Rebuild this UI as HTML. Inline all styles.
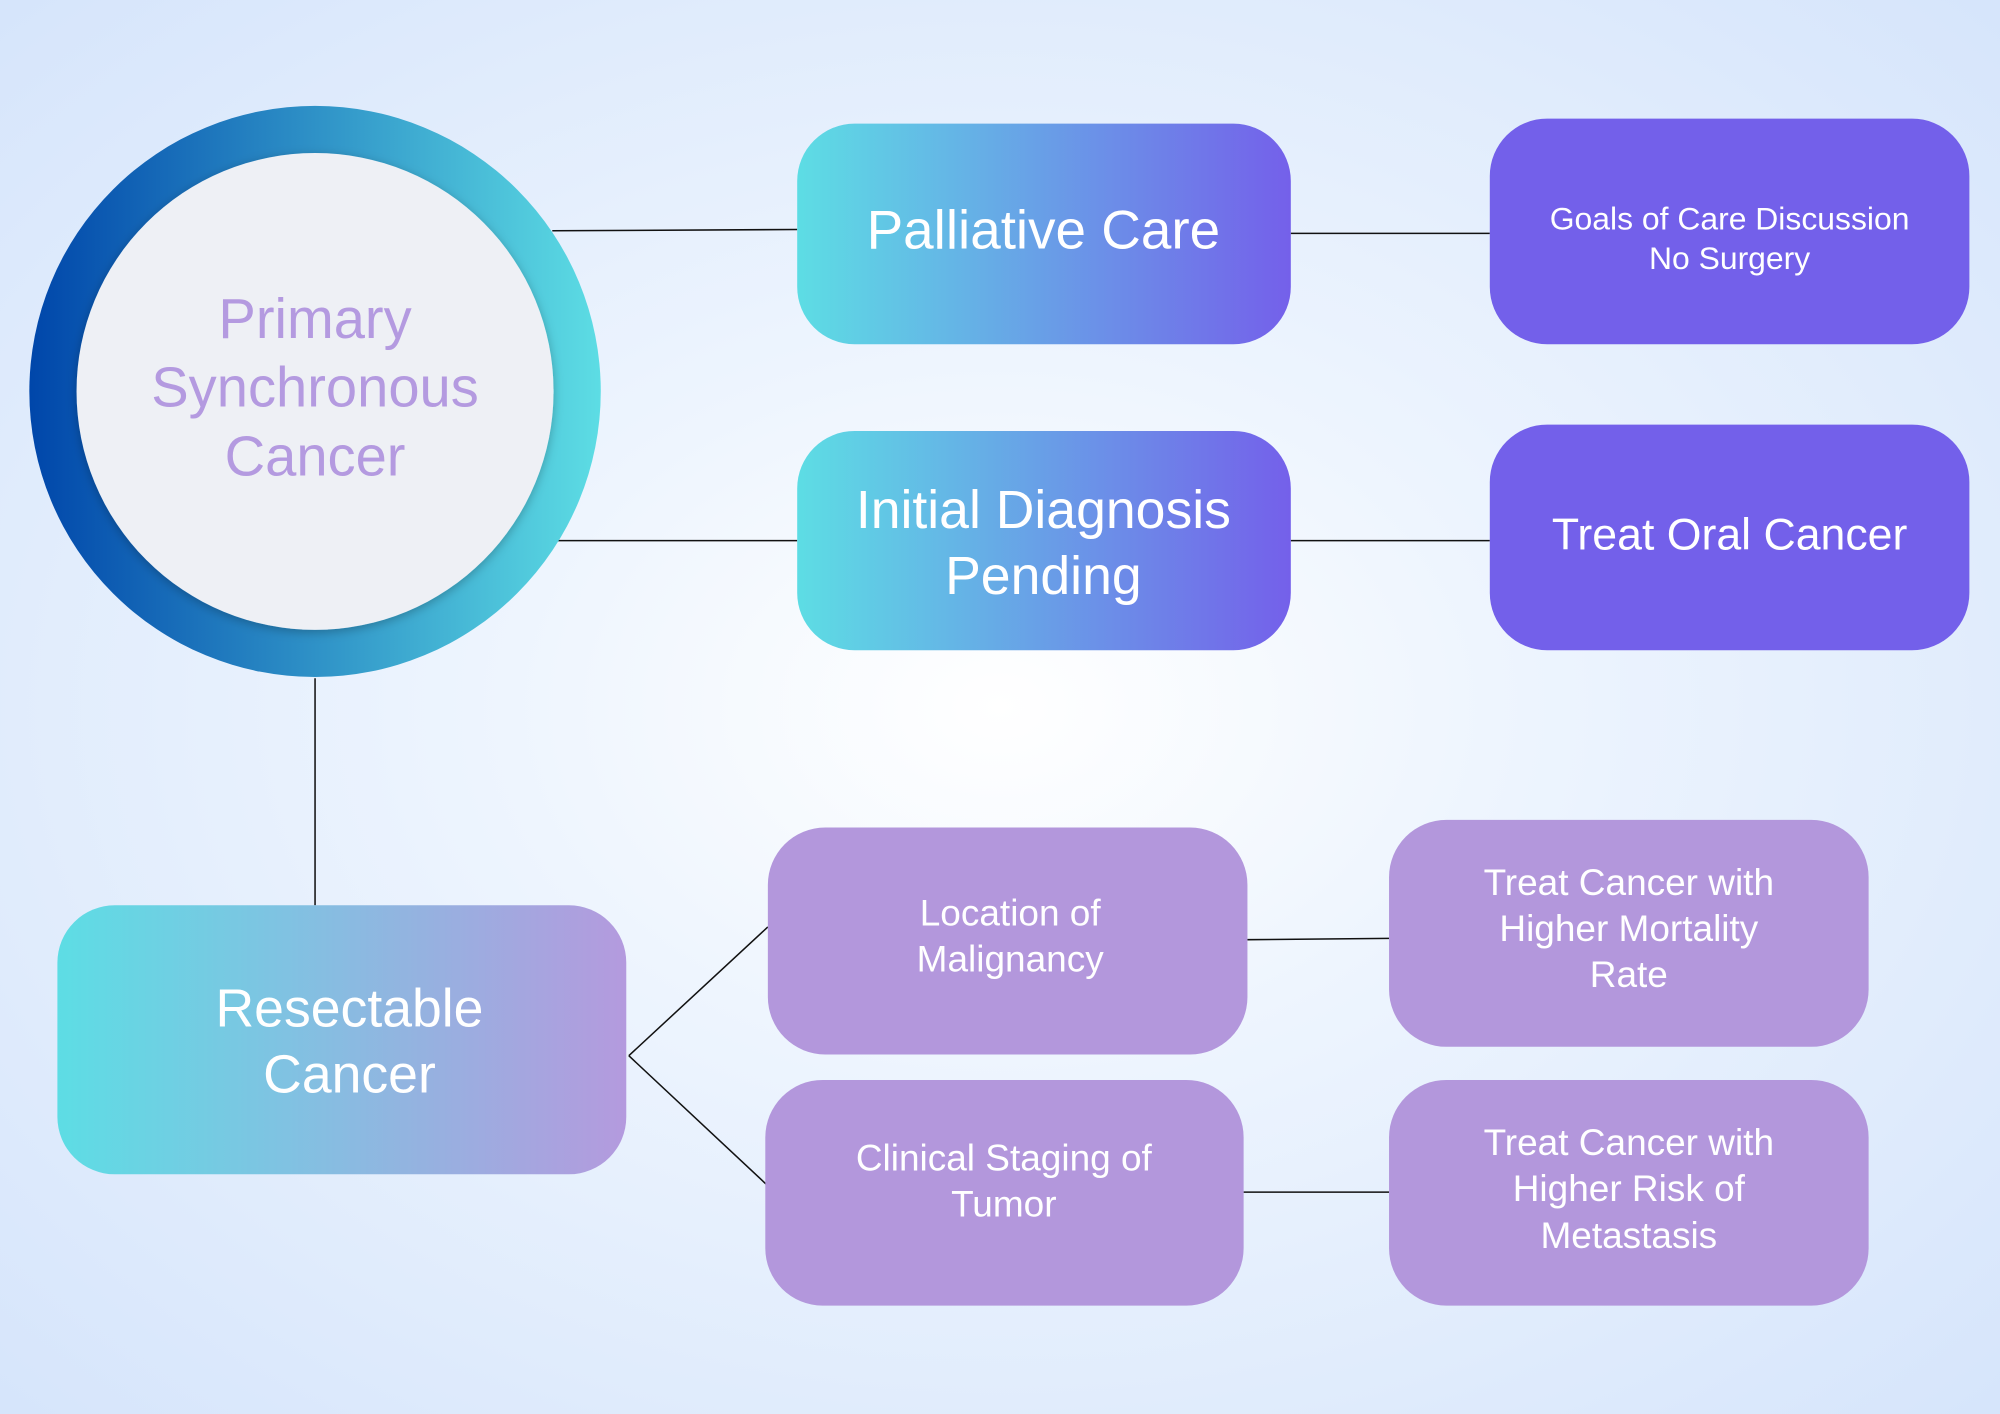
<!DOCTYPE html>
<html><head><meta charset="utf-8"><style>
html,body{margin:0;padding:0;width:2000px;height:1414px;overflow:hidden}
svg{display:block}
text{font-family:"Liberation Sans",sans-serif;text-anchor:middle;fill:#fff}
</style></head><body>
<svg width="2000" height="1414" viewBox="0 0 1568 1109" preserveAspectRatio="none" xmlns="http://www.w3.org/2000/svg">
<defs>
<radialGradient id="bg" cx="0.5" cy="0.5" r="0.7">
<stop offset="0" stop-color="#ffffff"/><stop offset="0.35" stop-color="#eef5fe"/><stop offset="1" stop-color="#d6e5fb"/>
</radialGradient>
<linearGradient id="ring" x1="0" y1="0" x2="1" y2="0">
<stop offset="0" stop-color="#0046aa"/><stop offset="1" stop-color="#5ddde4"/>
</linearGradient>
<linearGradient id="g1" x1="0" y1="0" x2="1" y2="0">
<stop offset="0" stop-color="#5ddde4"/><stop offset="1" stop-color="#7460ea"/>
</linearGradient>
<linearGradient id="g2" x1="0" y1="0" x2="1" y2="0">
<stop offset="0" stop-color="#5ddde4"/><stop offset="1" stop-color="#b49ade"/>
</linearGradient>
<filter id="sh" x="-20%" y="-20%" width="140%" height="140%"><feDropShadow dx="0" dy="2" stdDeviation="4" flood-color="#000" flood-opacity="0.25"/></filter>
</defs>
<rect width="1568" height="1109" fill="url(#bg)"/>
<g stroke="#111" stroke-width="1.2">
<line x1="433" y1="181" x2="625" y2="180"/>
<line x1="1012" y1="183" x2="1168" y2="183"/>
<line x1="433" y1="424" x2="625" y2="424"/>
<line x1="1012" y1="424" x2="1168" y2="424"/>
<line x1="247" y1="532" x2="247" y2="710"/>
<line x1="493" y1="828" x2="602" y2="727"/>
<line x1="493" y1="828" x2="602" y2="930"/>
<line x1="978" y1="737" x2="1089" y2="736"/>
<line x1="975" y1="935" x2="1089" y2="935"/>
</g>
<circle cx="247" cy="307" r="224" fill="url(#ring)"/>
<circle cx="247" cy="307" r="187" fill="#eef0f5" filter="url(#sh)"/>
<g style="font-size:44px" fill="#b49ae0">
<text x="247" y="265" style="fill:#b49ae0">Primary</text>
<text x="247" y="319" style="fill:#b49ae0">Synchronous</text>
<text x="247" y="373" style="fill:#b49ae0">Cancer</text>
</g>
<rect x="625" y="97" width="387" height="173" rx="45" fill="url(#g1)"/>
<text x="818" y="195" font-size="43">Palliative Care</text>
<rect x="625" y="338" width="387" height="172" rx="45" fill="url(#g1)"/>
<text x="818" y="414" font-size="42">Initial Diagnosis</text>
<text x="818" y="466" font-size="42">Pending</text>
<rect x="1168" y="93" width="376" height="177" rx="45" fill="#7360ea"/>
<text x="1356" y="180" font-size="25">Goals of Care Discussion</text>
<text x="1356" y="211" font-size="25">No Surgery</text>
<rect x="1168" y="333" width="376" height="177" rx="45" fill="#7360ea"/>
<text x="1356" y="431" font-size="35">Treat Oral Cancer</text>
<rect x="45" y="710" width="446" height="211" rx="45" fill="url(#g2)"/>
<text x="274" y="805" font-size="42">Resectable</text>
<text x="274" y="857" font-size="42">Cancer</text>
<rect x="602" y="649" width="376" height="178" rx="45" fill="#b397dc"/>
<text x="792" y="726" font-size="29">Location of</text>
<text x="792" y="762" font-size="29">Malignancy</text>
<rect x="600" y="847" width="375" height="177" rx="45" fill="#b397dc"/>
<text x="787" y="918" font-size="29">Clinical Staging of</text>
<text x="787" y="954" font-size="29">Tumor</text>
<rect x="1089" y="643" width="376" height="178" rx="45" fill="#b397dc"/>
<text x="1277" y="702" font-size="29">Treat Cancer with</text>
<text x="1277" y="738" font-size="29">Higher Mortality</text>
<text x="1277" y="774" font-size="29">Rate</text>
<rect x="1089" y="847" width="376" height="177" rx="45" fill="#b397dc"/>
<text x="1277" y="906" font-size="29">Treat Cancer with</text>
<text x="1277" y="942" font-size="29">Higher Risk of</text>
<text x="1277" y="979" font-size="29">Metastasis</text>
</svg>
</body></html>
